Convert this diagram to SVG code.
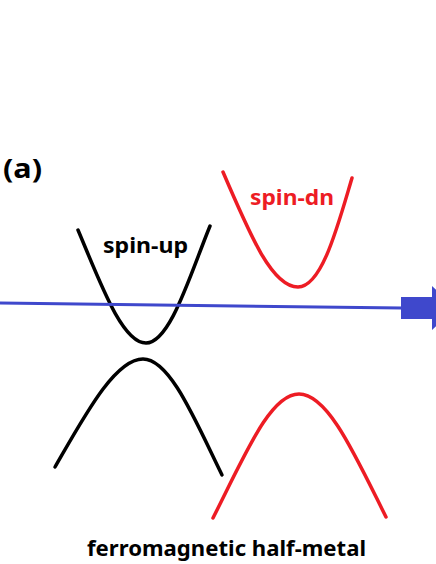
<svg xmlns="http://www.w3.org/2000/svg" width="436" height="564" viewBox="0 0 436 564">
<style>
.band{fill:none;stroke-width:3.5;stroke-linecap:round}
.up{stroke:#000}
.dn{stroke:#ed1c24}
.lbl{font-family:"Noto Sans","Open Sans","DejaVu Sans",sans-serif;font-weight:bold;font-size:21px}
</style>
<rect width="436" height="564" fill="#fff"/>
<g id="label-a"><text class="lbl" x="3" y="178" style="font-size:26px" textLength="39" lengthAdjust="spacingAndGlyphs">(a)</text></g>
<g id="spin-up-conduction"><path class="band up" d="M78,230 C100,282 122,343 146,343 C170,343 190,275 210,226"/></g>
<g id="spin-up-valence"><path class="band up" d="M55,467 C85,415 115,359 143,359 C170,359 195,420 222,475"/></g>
<g id="spin-dn-conduction"><path class="band dn" d="M223,172 C250,235 272,287 298,287 C322,287 338,225 352,178"/></g>
<g id="spin-dn-valence"><path class="band dn" d="M213,518 C245,455 270,394 299,394 C328,394 355,455 386,517"/></g>
<g id="text-spin-up"><text class="lbl" x="103" y="253" fill="#000" textLength="85" lengthAdjust="spacingAndGlyphs">spin-up</text></g>
<g id="text-spin-dn"><text class="lbl" x="250" y="205" fill="#ed1c24" textLength="84" lengthAdjust="spacingAndGlyphs">spin-dn</text></g>
<g id="caption"><text class="lbl" x="87" y="556" fill="#000" textLength="279" lengthAdjust="spacingAndGlyphs">ferromagnetic half-metal</text></g>
<g id="connectors">
<line x1="0" y1="303" x2="402" y2="308" stroke="#3f48cc" stroke-width="3"/>
<polygon points="401,297 432,297 432,286 456,308 432,330 432,319 401,319" fill="#3f48cc"/>
</g>
</svg>
